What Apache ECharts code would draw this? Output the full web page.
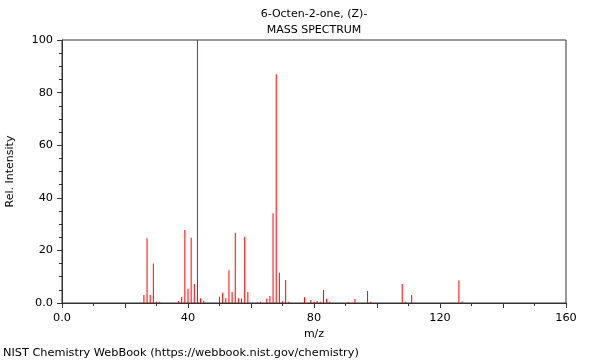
<!DOCTYPE html>
<html><head><meta charset="utf-8">
<script src="https://cdn.jsdelivr.net/npm/echarts@6/dist/echarts.min.js"></script>
<style>html,body{margin:0;padding:0;background:#fff}#c{width:600px;height:360px}</style>
</head><body><div id="c"></div>
<script>
const titleLines = ["6-Octen-2-one, (Z)-", "MASS SPECTRUM"];
const xAxisLabel = "m/z";
const yAxisLabel = "Rel. Intensity";
const footer = "NIST Chemistry WebBook (https://webbook.nist.gov/chemistry)";
const mz = [26,27,28,29,30,31,37,38,39,40,41,42,43,44,45,50,51,52,53,54,55,56,57,58,59,62,63,65,66,67,68,69,70,71,72,77,79,80,81,82,83,84,85,91,93,97,98,108,109,111,126,127];
const intensity = [3,24.6,3,15,0.5,0.5,0.8,2.4,27.8,5.4,24.8,7.2,100,1.8,0.9,2.4,3.9,1.9,12.5,4.2,26.7,1.8,1.7,25.2,4.2,0.3,0.5,1.7,2.7,34.1,87,11.5,0.7,8.7,0.5,2.2,1.1,0.5,0.8,0.5,4.9,1.6,0.5,0.4,1.5,4.6,0.5,7.2,0.5,3.0,8.6,0.6];
const xTicks = [0,40,80,120,160];
const yTicks = [0,20,40,60,80,100];

const font = "DejaVu Sans";
const chart = echarts.init(document.getElementById('c'), null, {renderer:'canvas'});
const axisColor = '#333';
const txt = (t,x,y,align,size)=>({type:'text', x:x, y:y, style:{text:t, fill:'#000', font: size+'px "'+font+'"', textAlign:align, textVerticalAlign:'middle'}, silent:true});
chart.setOption({
  animation:false,
  textStyle:{fontFamily:font},
  graphic:[
    txt(titleLines[0], 314, 14, 'center', 11),
    txt(titleLines[1], 314, 30, 'center', 11),
    txt(footer, 3, 353, 'left', 11.3)
  ],
  grid:{left:62, right:34, top:40, bottom:57, show:true, borderColor:axisColor, borderWidth:1, backgroundColor:'transparent', containLabel:false, outerBoundsMode:'none'},
  xAxis:{type:'value', min:0, max:160, interval:20,
    name:xAxisLabel, nameLocation:'middle', nameGap:24, nameTextStyle:{fontSize:11, color:'#000', fontFamily:font},
    axisLine:{lineStyle:{color:axisColor, width:1}},
    axisTick:{show:true, length:5, lineStyle:{color:axisColor}},
    minorTick:{show:true, splitNumber:2, length:3, lineStyle:{color:axisColor}},
    splitLine:{show:false},
    axisLabel:{fontSize:11.3, color:'#000', fontFamily:font, margin:10,
      formatter:v=> xTicks.indexOf(v)>=0 ? (v===0?'0.0':String(v)) : ''}
  },
  yAxis:{type:'value', min:0, max:100, interval:20,
    name:yAxisLabel, nameLocation:'middle', nameGap:46, nameRotate:90, nameTextStyle:{fontSize:11, color:'#000', fontFamily:font},
    axisLine:{show:true, lineStyle:{color:axisColor, width:1}},
    axisTick:{show:true, length:5, lineStyle:{color:axisColor}},
    minorTick:{show:true, splitNumber:4, length:3, lineStyle:{color:axisColor}},
    splitLine:{show:false},
    axisLabel:{fontSize:11.3, color:'#000', fontFamily:font, margin:9,
      formatter:v=> yTicks.indexOf(v)>=0 ? (v===0?'0.0':String(v)) : ''}
  },
  series:[{type:'bar', barWidth:1, data: mz.map((m,i)=>[m,intensity[i]]), itemStyle:{color:'#ff0000'}, silent:true}]
});
</script></body></html>
